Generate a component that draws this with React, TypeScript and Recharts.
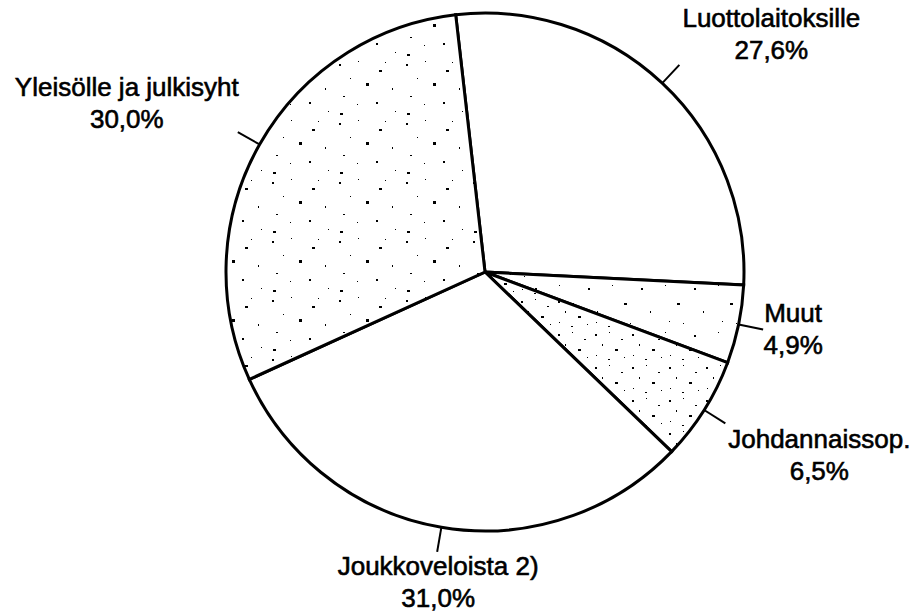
import React from "react";
import { PieChart, Pie, Cell } from "recharts";

const categories = [
  "Luottolaitoksille",
  "Muut",
  "Johdannaissop.",
  "Joukkoveloista 2)",
  "Yleisölle ja julkisyht",
];
const shares = [27.6, 4.9, 6.5, 31.0, 30.0];

const data = categories.map((name, i) => ({ name, value: shares[i] }));

// styling per slice
const fills = [
  "#ffffff",
  "url(#speckleLight)",
  "url(#speckleDense)",
  "#ffffff",
  "url(#speckleMed)",
];

// label text offsets relative to end of leader line (dx, dy to first baseline)
const labelOffsets = [
  { dx: 92, dy: -38 },
  { dx: 30, dy: -7 },
  { dx: 94, dy: 25 },
  { dx: 1, dy: 23 },
  { dx: -111, dy: -36 },
];

const RAD = Math.PI / 180;
const FONT = "'Liberation Sans', Arial, Helvetica, sans-serif";

const fmt = (v: number) => v.toFixed(1).replace(".", ",") + "%";

const renderLabel = (props: any) => {
  const { cx, cy, midAngle, outerRadius, index } = props;
  const cos = Math.cos(-midAngle * RAD);
  const sin = Math.sin(-midAngle * RAD);
  const sx = cx + outerRadius * cos;
  const sy = cy + outerRadius * sin;
  const ex = cx + (outerRadius + 25) * cos;
  const ey = cy + (outerRadius + 25) * sin;
  const off = labelOffsets[index];
  const tx = ex + off.dx;
  const ty = ey + off.dy;
  return (
    <g key={"lbl" + index}>
      <line x1={sx} y1={sy} x2={ex} y2={ey} stroke="#000" strokeWidth={2} />
      <text
        x={tx}
        y={ty}
        textAnchor="middle"
        fontFamily={FONT}
        fontSize={26}
        fill="#000"
        stroke="#000"
        strokeWidth={0.6}
      >
        {categories[index]}
      </text>
      <text
        x={tx}
        y={ty + 32}
        textAnchor="middle"
        fontFamily={FONT}
        fontSize={26}
        fill="#000"
        stroke="#000"
        strokeWidth={0.6}
      >
        {fmt(shares[index])}
      </text>
    </g>
  );
};

export default function App() {
  return (
    <div style={{ position: "absolute", left: 0, top: 0, background: "#fff" }}>
      <PieChart width={920} height={612} margin={{ top: 0, right: 0, bottom: 0, left: 0 }}>
        <defs>
          <pattern id="speckleLight" width="53" height="47" patternUnits="userSpaceOnUse">
            <rect width="53" height="47" fill="#fff" />
            <rect x="5" y="6" width="2" height="2" fill="#000" />
            <rect x="29" y="3" width="1" height="1" fill="#000" />
            <rect x="41" y="21" width="3" height="2" fill="#000" />
            <rect x="14" y="29" width="1" height="2" fill="#000" />
            <rect x="33" y="39" width="1" height="1" fill="#000" />
            <rect x="47" y="41" width="1" height="1" fill="#000" />
          </pattern>
          <pattern id="speckleMed" width="67" height="59" patternUnits="userSpaceOnUse">
            <rect width="67" height="59" fill="#fff" />
            <rect x="4" y="5" width="2" height="2" fill="#000" />
            <rect x="23" y="2" width="1" height="1" fill="#000" />
            <rect x="44" y="11" width="3" height="2" fill="#000" />
            <rect x="15" y="19" width="1" height="1" fill="#000" />
            <rect x="31" y="24" width="3" height="3" fill="#000" />
            <rect x="57" y="29" width="1" height="2" fill="#000" />
            <rect x="8" y="37" width="2" height="1" fill="#000" />
            <rect x="22" y="45" width="1" height="1" fill="#000" />
            <rect x="41" y="43" width="2" height="2" fill="#000" />
            <rect x="60" y="52" width="1" height="1" fill="#000" />
            <rect x="5" y="54" width="3" height="2" fill="#000" />
            <rect x="50" y="3" width="1" height="1" fill="#000" />
          </pattern>
          <pattern id="speckleDense" width="37" height="33" patternUnits="userSpaceOnUse">
            <rect width="37" height="33" fill="#fff" />
            <rect x="3" y="4" width="2" height="2" fill="#000" />
            <rect x="17" y="2" width="1" height="1" fill="#000" />
            <rect x="29" y="9" width="2" height="1" fill="#000" />
            <rect x="10" y="14" width="1" height="2" fill="#000" />
            <rect x="23" y="19" width="3" height="2" fill="#000" />
            <rect x="4" y="25" width="1" height="1" fill="#000" />
            <rect x="32" y="27" width="1" height="1" fill="#000" />
            <rect x="16" y="29" width="2" height="1" fill="#000" />
          </pattern>
        </defs>
        <Pie
          data={data}
          dataKey="value"
          nameKey="name"
          cx={485}
          cy={272}
          outerRadius={259}
          startAngle={96.5}
          endAngle={-263.5}
          stroke="#000"
          strokeWidth={3}
          label={renderLabel}
          labelLine={false}
          isAnimationActive={false}
        >
          {data.map((d, i) => (
            <Cell key={d.name} fill={fills[i]} stroke="#000" strokeWidth={3} />
          ))}
        </Pie>
      </PieChart>
    </div>
  );
}
